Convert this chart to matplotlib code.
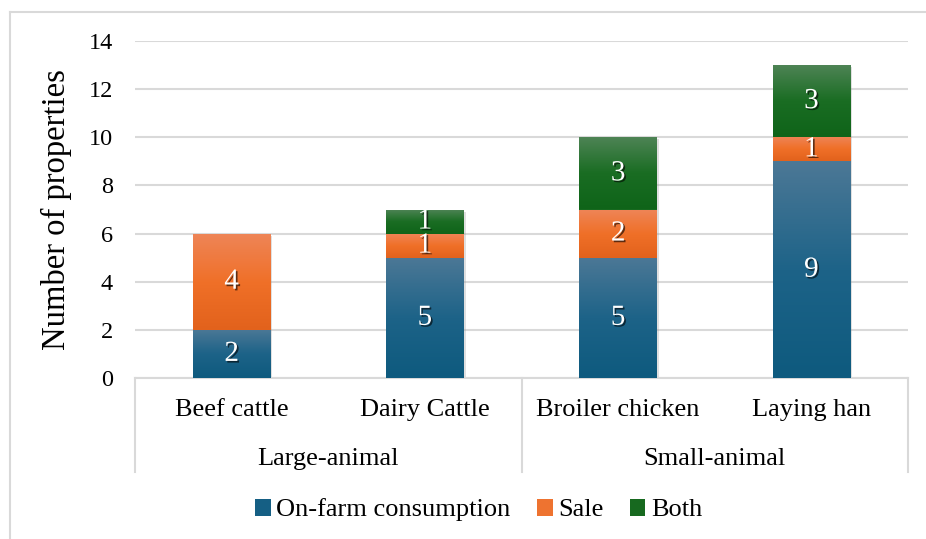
import numpy as np
import matplotlib
matplotlib.use("Agg")
import matplotlib.pyplot as plt
import matplotlib.patheffects as pe
from matplotlib.colors import LinearSegmentedColormap
from matplotlib.patches import Patch
from matplotlib.lines import Line2D
import matplotlib.transforms as mtransforms

plt.rcParams['font.family'] = ['Liberation Serif', 'DejaVu Serif']

# data
categories = ['Beef cattle', 'Dairy Cattle', 'Broiler chicken', 'Laying han']
groups = ['Large-animal', 'Small-animal']
group_spans = [(0, 1), (2, 3)]
on_farm = [2, 5, 5, 9]
sale = [4, 1, 2, 1]
both = [0, 1, 3, 3]
series_names = ['On-farm consumption', 'Sale', 'Both']

# gradient stops: light top, base middle, dark bottom
grad = {
    'On-farm consumption': ['#4c7896', '#1d6388', '#0e5a7e'],
    'Sale': ['#ee8558', '#f07028', '#e2621c'],
    'Both': ['#4f8456', '#1a6d23', '#0f6419'],
}
legend_col = {'On-farm consumption': '#155f84', 'Sale': '#ee7330', 'Both': '#17691f'}

fig = plt.figure(figsize=(9.26, 5.39), dpi=100)
ax = fig.add_axes([135 / 926, 1 - 378 / 539, (908 - 135) / 926, (378 - 41) / 539])

x = np.arange(len(categories))
width = 0.4
bottoms = np.zeros(len(categories))
shadow = [pe.SimplePatchShadow(offset=(1.5, -1.5), shadow_rgbFace='#999999', alpha=0.3), pe.Normal()]
txt_fx = [pe.SimplePatchShadow(offset=(1.2, -1.2), shadow_rgbFace='#000000', alpha=0.6), pe.Normal()]

for name, vals in zip(series_names, [on_farm, sale, both]):
    cmap = LinearSegmentedColormap.from_list(name, [(0, grad[name][0]), (0.5, grad[name][1]), (1, grad[name][2])])
    bars = ax.bar(x, vals, width, bottom=bottoms, color=legend_col[name], zorder=2, path_effects=shadow)
    for b, v, bt in zip(bars, vals, bottoms):
        if v == 0:
            continue
        g = np.linspace(0, 1, 128).reshape(-1, 1)
        im = ax.imshow(g, cmap=cmap, aspect='auto', zorder=3,
                       extent=[b.get_x(), b.get_x() + b.get_width(), bt, bt + v], origin='upper')
        im.set_clip_path(b)
        ax.text(b.get_x() + b.get_width() / 2, bt + v / 2, str(v), ha='center', va='center',
                color='white', fontsize=21, zorder=4, path_effects=txt_fx)
    bottoms = bottoms + np.array(vals)

ax.set_xlim(-0.5, 3.5)
ax.set_ylim(0, 14)
ax.set_yticks(np.arange(0, 15, 2))
ax.yaxis.grid(True, color='#d9d9d9', linewidth=1.5, zorder=0)
ax.set_axisbelow(True)
for s in ['top', 'right', 'left']:
    ax.spines[s].set_visible(False)
ax.spines['bottom'].set_color('#d9d9d9')
ax.spines['bottom'].set_linewidth(1.5)
ax.tick_params(axis='y', length=0, pad=16, labelsize=17.5)
ax.set_xticks([])
ax.set_ylabel('Number of properties', fontsize=23.5, labelpad=12)

# multi-level category axis
trans = mtransforms.blended_transform_factory(ax.transData, ax.transAxes)
for xv in [-0.5, 1.5, 3.5]:
    ax.add_line(Line2D([xv, xv], [0, -0.279], transform=trans, color='#d9d9d9', linewidth=1.5, clip_on=False))
for i, c in enumerate(categories):
    ax.text(i, -0.095, c, transform=trans, ha='center', va='center', fontsize=19)
for gname, (a, b) in zip(groups, group_spans):
    ax.text((a + b) / 2, -0.24, gname, transform=trans, ha='center', va='center', fontsize=19)

handles = [Patch(facecolor=legend_col[n], edgecolor='none') for n in series_names]
fig.legend(handles, series_names, loc='center', bbox_to_anchor=(478.5 / 926, 1 - 510 / 539), ncol=3,
           frameon=False, fontsize=19, handlelength=0.6, handleheight=0.6, handletextpad=0.2,
           columnspacing=1.0)

# chart area border (left and top visible)
fig.add_artist(Line2D([9.5 / 926, 9.5 / 926], [0, 1 - 11.5 / 539], transform=fig.transFigure,
                      color='#d9d9d9', linewidth=1.5))
fig.add_artist(Line2D([9.5 / 926, 1], [1 - 11.5 / 539, 1 - 11.5 / 539], transform=fig.transFigure,
                      color='#d9d9d9', linewidth=1.5))

fig.savefig('out.png', dpi=100)
